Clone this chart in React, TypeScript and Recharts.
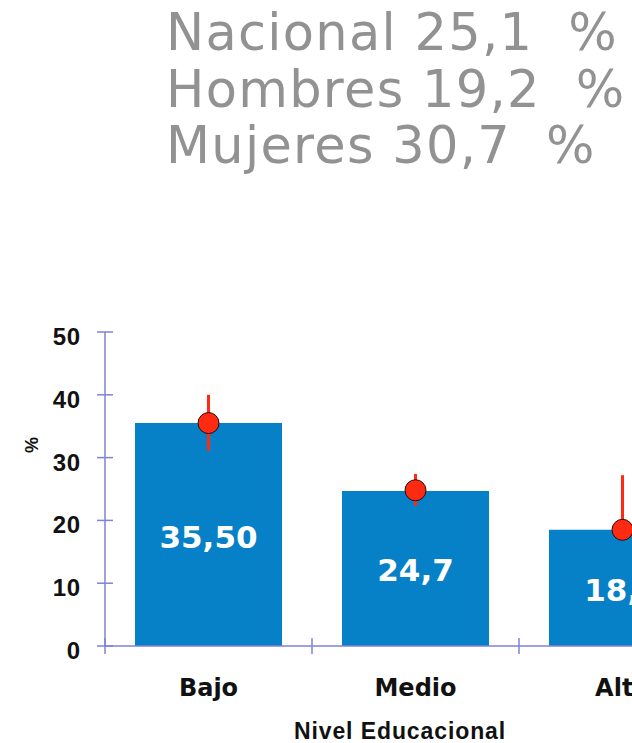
import React from 'react';
import { ComposedChart, Bar, Line, XAxis, YAxis, ErrorBar, LabelList, Label } from 'recharts';

const categorias = ['Bajo', 'Medio', 'Alto'];
const valores = [35.5, 24.7, 18.5];
const etiquetas = ['35,50', '24,7', '18,5'];
const puntos = [35.5, 24.8, 18.5];
const errores: [number, number][] = [[4.4, 4.5], [2.5, 2.6], [1.0, 8.7]];
const yTicks = [0, 10, 20, 30, 40, 50];
const titulos = ['Nacional 25,1  %', 'Hombres 19,2  %', 'Mujeres 30,7  %'];

const data = categorias.map((c, i) => ({
  nivel: c,
  valor: valores[i],
  etiqueta: etiquetas[i],
  punto: puntos[i],
  err: errores[i],
}));

const AXIS = '#8282d4';
const BAR = '#0680c6';
const RED = '#ff2a12';

const YTick = (props: any) => {
  const { x, y, payload } = props;
  return (
    <g>
      <line x1={x + 16} x2={x + 32} y1={y} y2={y} stroke={AXIS} strokeWidth={1.5} />
      <text x={x} y={y + 13} textAnchor="end" fontFamily="'Liberation Sans', Arial, sans-serif" fontWeight="bold" fontSize={24} fill="#111" letterSpacing={0.8}>
        {payload.value}
      </text>
    </g>
  );
};

const XTick = (props: any) => {
  const { x, y, payload, index } = props;
  const half = payload && typeof payload.offset === 'number' && payload.offset > 0 ? payload.offset : 103.5;
  return (
    <g>
      {index === 0 && <line x1={x - half} x2={x - half} y1={y - 16} y2={y} stroke={AXIS} strokeWidth={1.5} />}
      <line x1={x + half} x2={x + half} y1={y - 16} y2={y} stroke={AXIS} strokeWidth={1.5} />
      <text x={x} y={y + 42} textAnchor="middle" fontFamily="'DejaVu Sans', Verdana, sans-serif" fontWeight="bold" fontSize={24} fill="#111">
        {payload.value}
      </text>
    </g>
  );
};

export default function App() {
  return (
    <div style={{ position: 'fixed', left: 0, top: 0, width: 632, height: 743, overflow: 'hidden', background: '#fff' }}>
      <svg width={632} height={200} style={{ position: 'absolute', left: 0, top: 0 }}>
        {titulos.map((t, i) => (
          <text key={t} x={166} y={50 + i * 56.5} fontFamily="'DejaVu Sans', Verdana, sans-serif" fontSize={51} fill="#929292" letterSpacing={1.3} style={{ whiteSpace: 'pre' }}>
            {t}
          </text>
        ))}
      </svg>
      <div style={{ position: 'absolute', left: 0, top: 0 }}>
        <ComposedChart width={736} height={743} data={data} margin={{ top: 332, right: 10, bottom: 0, left: 0 }}>
          <XAxis
            dataKey="nivel"
            height={97}
            tickLine={false}
            tickSize={8}
            tickMargin={0}
            axisLine={{ stroke: AXIS, strokeWidth: 1.5 }}
            tick={<XTick />}
            interval={0}
          >
            <Label
              content={(p: any) => {
                const vb = p.viewBox || { x: 105, y: 646, width: 621, height: 97 };
                return (
                  <text x={vb.x + 295} y={vb.y + 93} textAnchor="middle" fontFamily="'Liberation Sans', Arial, sans-serif" fontWeight="bold" fontSize={23} fill="#111" letterSpacing={0.9}>
                    Nivel Educacional
                  </text>
                );
              }}
            />
          </XAxis>
          <YAxis
            width={105}
            domain={[0, 50]}
            ticks={yTicks}
            tickLine={false}
            tickSize={8}
            tickMargin={16}
            axisLine={{ stroke: AXIS, strokeWidth: 1.5 }}
            tick={<YTick />}
          >
            <Label
              content={(p: any) => {
                const vb = p.viewBox || { x: 0, y: 332, width: 105, height: 314 };
                const cx = vb.x + 32;
                const cy = vb.y + 113;
                return (
                  <text x={cx} y={cy} transform={`rotate(-90 ${cx} ${cy})`} textAnchor="middle" dominantBaseline="central" fontFamily="'Liberation Sans', Arial, sans-serif" fontWeight="bold" fontSize={18} fill="#111">
                    %
                  </text>
                );
              }}
            />
          </YAxis>
          <Bar dataKey="valor" fill={BAR} barSize={147} isAnimationActive={false}>
            <LabelList
              dataKey="etiqueta"
              position="center"
              fill="#fff"
              fontFamily="'DejaVu Sans', Verdana, sans-serif"
              fontWeight="bold"
              fontSize={31}
              offset={0}
              dy={2}
            />
          </Bar>
          <Line
            dataKey="punto"
            stroke="none"
            legendType="none"
            isAnimationActive={false}
            dot={{ r: 10.5, fill: RED, stroke: '#2a0a05', strokeWidth: 1, fillOpacity: 1 }}
            activeDot={false}
          >
            <ErrorBar dataKey="err" width={0} stroke={RED} strokeWidth={3} direction="y" />
          </Line>
        </ComposedChart>
      </div>
    </div>
  );
}
